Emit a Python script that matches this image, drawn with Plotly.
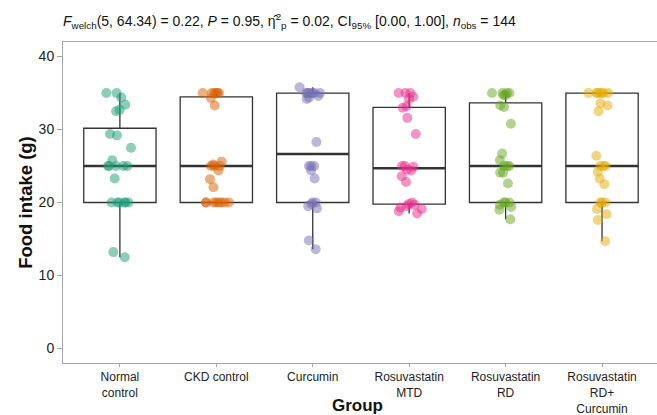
import numpy as np
import plotly.graph_objects as go

categories = ["Normal control", "CKD control", "Curcumin", "Rosuvastatin MTD",
              "Rosuvastatin RD", "Rosuvastatin RD+ Curcumin"]
tick_labels = ["Normal<br>control", "CKD control", "Curcumin", "Rosuvastatin<br>MTD",
               "Rosuvastatin<br>RD", "Rosuvastatin<br>RD+<br>Curcumin"]

normal_control = [12.5, 13.2, 20, 20, 20, 20, 20, 20, 23.3, 25, 25, 25, 25, 25,
                  25.8, 27.5, 29.2, 29.4, 32.5, 32.7, 33.4, 34.4, 35, 35]
ckd_control = [20, 20, 20, 20, 20, 20, 20, 20, 22.1, 23.2, 24.4, 25, 25, 25,
               25.2, 25.6, 33.3, 34.3, 35, 35, 35, 35, 35, 35]
curcumin = [13.6, 14.8, 19.2, 19.5, 19.8, 20, 20, 23.3, 24.4, 25, 25, 25, 28.3,
            34.2, 34.4, 34.6, 35, 35, 35, 35, 35, 35, 35, 35.8]
rosu_mtd = [18.5, 18.8, 19.1, 19.3, 19.5, 19.7, 19.8, 20, 22.8, 23.6, 24.4, 24.5,
            24.9, 25, 25, 29.4, 31.6, 33.0, 33.2, 34.2, 34.5, 35, 35, 35]
rosu_rd = [17.7, 19.0, 19.4, 19.7, 20, 20, 20, 22.6, 24.1, 24.1, 25, 25, 25,
           25.8, 26.7, 30.8, 33.1, 33.3, 34.7, 34.7, 35, 35, 35, 35]
rosu_rd_curcumin = [14.7, 17.6, 18.4, 19.1, 20, 20, 20, 22.5, 23.3, 24.2, 25, 25,
                    25, 26.4, 32.5, 33.3, 33.6, 35, 35, 35, 35, 35, 35, 35]

groups = [normal_control, ckd_control, curcumin, rosu_mtd, rosu_rd, rosu_rd_curcumin]
colors = ["27,158,119", "217,95,2", "117,112,179", "231,41,138", "102,166,30", "230,171,2"]

title_text = ("<i>F</i><sub>welch</sub>(5, 64.34) = 0.22, <i>P</i> = 0.95, "
              "\u03b7\u0302<sup>2</sup><sub>p</sub> = 0.02, CI<sub>95%</sub> [0.00, 1.00], "
              "<i>n</i><sub>obs</sub> = 144")

# Tukey box statistics (R type-7 quantiles)
q1s, meds, q3s, lfs, ufs = [], [], [], [], []
for vals in groups:
    a = np.array(vals, dtype=float)
    q1, med, q3 = np.percentile(a, [25, 50, 75])
    iqr = q3 - q1
    lf = a[a >= q1 - 1.5 * iqr].min()
    uf = a[a <= q3 + 1.5 * iqr].max()
    q1s.append(q1); meds.append(med); q3s.append(q3); lfs.append(lf); ufs.append(uf)

fig = go.Figure()
box_line = "#333333"
fig.add_trace(go.Box(
    x=categories, q1=q1s, median=meds, q3=q3s, lowerfence=lfs, upperfence=ufs,
    width=0.75, whiskerwidth=0, fillcolor="rgba(255,255,255,0)",
    line=dict(color=box_line, width=1.3), boxpoints=False, showlegend=False,
    hoverinfo="skip"))
# thicker median line
fig.add_trace(go.Box(
    x=categories, q1=meds, median=meds, q3=meds, lowerfence=meds, upperfence=meds,
    width=0.75, whiskerwidth=0, fillcolor="rgba(255,255,255,0)",
    line=dict(color=box_line, width=2.6), boxpoints=False, showlegend=False,
    hoverinfo="skip"))
for cat, vals, col in zip(categories, groups, colors):
    fig.add_trace(go.Box(
        x=[cat] * len(vals), y=vals, width=0.75, boxpoints="all", jitter=0.45,
        pointpos=0, fillcolor="rgba(0,0,0,0)", line=dict(width=0, color="rgba(0,0,0,0)"),
        whiskerwidth=0,
        marker=dict(color=f"rgba({col},0.5)", size=10, line=dict(width=0)),
        showlegend=False))

axis_grey = "#A6A6A6"
fig.update_layout(
    width=657, height=415,
    margin=dict(l=63, r=0, t=42, b=52, autoexpand=False),
    paper_bgcolor="white", plot_bgcolor="white",
    boxmode="overlay",
    font=dict(family="Liberation Sans, Arial, sans-serif", size=13, color="#222222"),
    title=dict(text=title_text, xref="paper", x=0, xanchor="left",
               yref="container", y=0.95, yanchor="middle", pad=dict(l=0, t=0, b=0, r=0),
               font=dict(size=14, color="#111111")),
    xaxis=dict(type="category", categoryorder="array", categoryarray=categories,
               tickvals=categories, ticktext=tick_labels, range=[-0.59, 5.57],
               automargin=False,
               showline=True, mirror=True, linecolor=axis_grey, linewidth=1,
               ticks="outside", ticklen=3, tickcolor=axis_grey,
               tickfont=dict(size=12, color="#222222"), showgrid=False, zeroline=False),
    yaxis=dict(range=[-2, 42], tickvals=[0, 10, 20, 30, 40], automargin=False,
               showline=True, mirror=True, linecolor=axis_grey, linewidth=1,
               ticks="outside", ticklen=5, tickcolor=axis_grey,
               tickfont=dict(size=14, color="#222222"), showgrid=False, zeroline=False,
               title=dict(text="<b>Food intake (g)</b>", standoff=1,
                          font=dict(size=18.5, color="#111111"))),
    annotations=[dict(text="<b>Group</b>", xref="paper", yref="paper", x=0.495, y=-0.133,
                      xanchor="center", yanchor="middle", showarrow=False,
                      font=dict(size=17, color="#111111"))],
)

fig.write_html("out.html", config={"displayModeBar": False},
               post_script="document.body.style.margin='0';document.body.style.padding='0';")
